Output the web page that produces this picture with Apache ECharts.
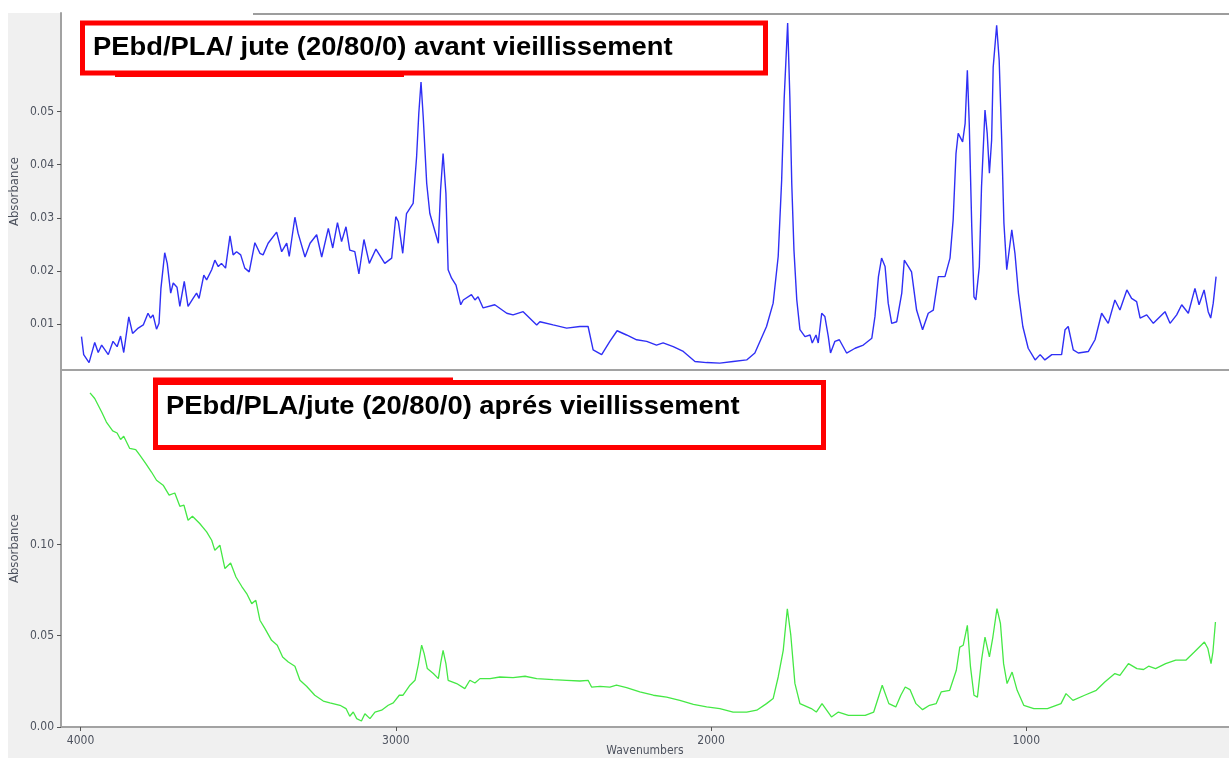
<!DOCTYPE html>
<html>
<head>
<meta charset="utf-8">
<script src="https://cdn.jsdelivr.net/npm/echarts@6/dist/echarts.min.js"></script>
<style>
html, body { margin: 0; padding: 0; background: #ffffff; }
#chart { width: 1229px; height: 758px; }
</style>
</head>
<body>
<div id="chart"></div>
<script>
// Tick positions
const xTicks = [1000, 2000, 3000, 4000];
const topTicks = [0.01, 0.02, 0.03, 0.04, 0.05];
const bottomTicks = [0, 0.05, 0.10];

// Panel titles
const titleBefore = 'PEbd/PLA/ jute (20/80/0) avant vieillissement';
const titleAfter = 'PEbd/PLA/jute (20/80/0) aprés vieillissement';

// FTIR spectrum before ageing: [wavenumber (cm-1), absorbance]
const beforeAgeing = [
  [3997,0.0076],[3990,0.0042],[3973,0.0027],[3955,0.0065],[3944,0.0046],[3933,0.0060],[3912,0.0042],
  [3897,0.0067],[3884,0.0057],[3873,0.0077],[3863,0.0046],[3847,0.0113],[3835,0.0082],[3817,0.0092],
  [3801,0.0098],[3786,0.0120],[3778,0.0111],[3770,0.0117],[3759,0.0090],[3751,0.0101],[3745,0.0167],
  [3733,0.0234],[3725,0.0214],[3714,0.0158],[3706,0.0177],[3694,0.0169],[3685,0.0133],[3671,0.0180],
  [3659,0.0133],[3643,0.0148],[3632,0.0158],[3624,0.0148],[3609,0.0192],[3600,0.0183],[3584,0.0202],
  [3574,0.0220],[3563,0.0208],[3553,0.0214],[3540,0.0205],[3526,0.0266],[3516,0.0230],[3505,0.0236],
  [3492,0.0230],[3479,0.0205],[3465,0.0198],[3447,0.0253],[3431,0.0233],[3421,0.0230],[3405,0.0252],
  [3378,0.0273],[3362,0.0236],[3346,0.0252],[3338,0.0227],[3320,0.0301],[3310,0.0271],[3288,0.0226],
  [3272,0.0252],[3251,0.0268],[3235,0.0226],[3214,0.0280],[3200,0.0243],[3185,0.0291],[3172,0.0255],
  [3158,0.0283],[3146,0.0239],[3130,0.0236],[3117,0.0194],[3101,0.0259],[3084,0.0214],[3063,0.0241],
  [3035,0.0214],[3013,0.0224],[3000,0.0302],[2992,0.0293],[2978,0.0233],[2966,0.0308],[2945,0.0327],
  [2934,0.0415],[2927,0.0497],[2920,0.0556],[2913,0.0490],[2902,0.0365],[2892,0.0308],[2865,0.0252],
  [2858,0.0352],[2850,0.0421],[2841,0.0346],[2834,0.0202],[2823,0.0186],[2809,0.0173],[2794,0.0136],
  [2786,0.0145],[2760,0.0155],[2749,0.0145],[2739,0.0151],[2723,0.0130],[2686,0.0136],[2648,0.0120],
  [2628,0.0117],[2596,0.0123],[2553,0.0098],[2543,0.0104],[2501,0.0098],[2458,0.0092],[2416,0.0095],
  [2390,0.0095],[2374,0.0051],[2347,0.0042],[2321,0.0067],[2298,0.0087],[2268,0.0079],[2236,0.0070],
  [2204,0.0067],[2173,0.0060],[2152,0.0064],[2120,0.0057],[2088,0.0048],[2051,0.0029],[2014,0.0027],
  [1972,0.0026],[1930,0.0029],[1887,0.0032],[1861,0.0045],[1824,0.0095],[1803,0.0139],[1787,0.0227],
  [1776,0.0371],[1768,0.0525],[1757,0.0667],[1750,0.0527],[1744,0.0365],[1737,0.0239],[1728,0.0145],
  [1718,0.0089],[1702,0.0076],[1686,0.0079],[1679,0.0064],[1667,0.0079],[1660,0.0064],[1649,0.0120],
  [1639,0.0114],[1628,0.0076],[1621,0.0045],[1607,0.0067],[1593,0.0070],[1570,0.0045],[1543,0.0054],
  [1517,0.0060],[1490,0.0073],[1480,0.0114],[1469,0.0189],[1459,0.0224],[1448,0.0208],[1438,0.0139],
  [1427,0.0101],[1411,0.0104],[1395,0.0158],[1387,0.0220],[1374,0.0208],[1364,0.0198],[1348,0.0126],
  [1329,0.0089],[1311,0.0120],[1295,0.0126],[1279,0.0189],[1258,0.0189],[1242,0.0224],[1232,0.0296],
  [1223,0.0421],[1216,0.0459],[1202,0.0443],[1194,0.0478],[1187,0.0578],[1181,0.0478],[1173,0.0283],
  [1166,0.0151],[1160,0.0145],[1149,0.0208],[1142,0.0359],[1131,0.0503],[1124,0.0459],[1117,0.0384],
  [1110,0.0446],[1105,0.0584],[1094,0.0663],[1086,0.0597],[1078,0.0446],[1071,0.0290],[1062,0.0202],
  [1046,0.0277],[1036,0.0233],[1025,0.0158],[1011,0.0095],[994,0.0054],[972,0.0032],[956,0.0042],
  [941,0.0032],[919,0.0042],[888,0.0042],[877,0.0089],[867,0.0095],[851,0.0051],[835,0.0045],
  [803,0.0048],[782,0.0070],[761,0.0120],[740,0.0101],[719,0.0145],[703,0.0126],[681,0.0164],
  [666,0.0148],[650,0.0142],[639,0.0111],[618,0.0117],[597,0.0101],[560,0.0123],[544,0.0101],
  [523,0.0117],[507,0.0136],[486,0.0120],[465,0.0167],[452,0.0136],[436,0.0164],[423,0.0123],
  [415,0.0111],[407,0.0139],[398,0.0189]
];

// FTIR spectrum after ageing: [wavenumber (cm-1), absorbance]
const afterAgeing = [
  [3970,0.1831],[3955,0.1800],[3933,0.1726],[3918,0.1671],[3898,0.1622],[3884,0.1611],[3873,0.1575],
  [3863,0.1593],[3844,0.1526],[3825,0.1520],[3812,0.1489],[3793,0.1443],[3775,0.1397],[3759,0.1352],
  [3738,0.1325],[3719,0.1270],[3701,0.1282],[3685,0.1209],[3672,0.1215],[3659,0.1133],[3645,0.1155],
  [3622,0.1115],[3600,0.1069],[3584,0.1023],[3574,0.0968],[3558,0.0996],[3542,0.0868],[3524,0.0899],
  [3507,0.0822],[3489,0.0771],[3473,0.0731],[3457,0.0676],[3444,0.0694],[3431,0.0585],[3415,0.0539],
  [3394,0.0475],[3376,0.0448],[3359,0.0384],[3341,0.0356],[3320,0.0333],[3304,0.0256],[3283,0.0223],
  [3257,0.0174],[3230,0.0142],[3209,0.0132],[3177,0.0119],[3158,0.0101],[3146,0.0059],[3135,0.0082],
  [3124,0.0046],[3109,0.0033],[3098,0.0073],[3082,0.0046],[3066,0.0082],[3045,0.0092],[3024,0.0119],
  [3008,0.0132],[2989,0.0174],[2977,0.0174],[2955,0.0229],[2939,0.0256],[2929,0.0338],[2918,0.0448],
  [2910,0.0402],[2900,0.0320],[2881,0.0293],[2865,0.0265],[2857,0.0356],[2850,0.0420],[2841,0.0347],
  [2834,0.0256],[2807,0.0238],[2781,0.0210],[2765,0.0256],[2749,0.0241],[2733,0.0265],[2701,0.0265],
  [2670,0.0274],[2628,0.0271],[2590,0.0278],[2553,0.0265],[2501,0.0260],[2458,0.0256],[2416,0.0252],
  [2390,0.0256],[2379,0.0219],[2352,0.0223],[2321,0.0219],[2300,0.0229],[2268,0.0216],[2226,0.0192],
  [2183,0.0174],[2141,0.0164],[2099,0.0146],[2056,0.0124],[2014,0.0110],[1972,0.0101],[1930,0.0082],
  [1887,0.0082],[1855,0.0092],[1824,0.0128],[1803,0.0156],[1787,0.0274],[1771,0.0420],[1758,0.0648],
  [1747,0.0503],[1734,0.0239],[1718,0.0128],[1682,0.0101],[1666,0.0082],[1648,0.0128],[1618,0.0055],
  [1596,0.0082],[1564,0.0064],[1511,0.0064],[1484,0.0082],[1457,0.0229],[1436,0.0128],[1414,0.0110],
  [1398,0.0174],[1384,0.0219],[1369,0.0205],[1350,0.0128],[1329,0.0095],[1307,0.0119],[1286,0.0128],
  [1270,0.0192],[1243,0.0201],[1222,0.0311],[1211,0.0438],[1200,0.0448],[1187,0.0557],[1177,0.0329],
  [1166,0.0174],[1155,0.0164],[1142,0.0366],[1131,0.0493],[1117,0.0384],[1106,0.0493],[1093,0.0649],
  [1082,0.0567],[1072,0.0347],[1061,0.0238],[1045,0.0301],[1029,0.0201],[1008,0.0119],[976,0.0101],
  [933,0.0101],[890,0.0128],[874,0.0183],[852,0.0146],[815,0.0174],[778,0.0201],[751,0.0247],
  [719,0.0293],[703,0.0283],[676,0.0347],[649,0.0320],[628,0.0315],[612,0.0333],[590,0.0320],
  [558,0.0347],[526,0.0366],[494,0.0366],[467,0.0411],[435,0.0466],[424,0.0430],[414,0.0347],
  [408,0.0411],[400,0.0575]
];

const narrowFont = '"DejaVu Sans Condensed","Liberation Sans Narrow",sans-serif';
const axisGray = '#a2a2a2';
const labelColor = '#4d525e';

function makeXAxis(gridIndex, withLabels) {
  return {
    gridIndex: gridIndex,
    type: 'value',
    inverse: true,
    min: 357,
    max: 4062,
    axisLine: { show: true, onZero: false, lineStyle: { color: axisGray, width: 2 } },
    axisTick: {
      show: withLabels, length: 4, customValues: xTicks,
      lineStyle: { color: '#555555', width: 1 }
    },
    axisLabel: {
      show: withLabels, customValues: xTicks, margin: 8,
      fontSize: 12, fontFamily: narrowFont, color: labelColor,
      formatter: v => String(v)
    },
    splitLine: { show: false },
    name: withLabels ? 'Wavenumbers' : '',
    nameLocation: 'middle',
    nameGap: 18,
    nameMoveOverlap: false,
    nameTextStyle: { fontSize: 12, fontFamily: narrowFont, color: labelColor }
  };
}

function makeYAxis(gridIndex, min, max, ticks) {
  return {
    gridIndex: gridIndex,
    type: 'value',
    min: min,
    max: max,
    axisLine: { show: true, onZero: false, lineStyle: { color: axisGray, width: 2 } },
    axisTick: {
      show: true, length: 4, customValues: ticks,
      lineStyle: { color: '#555555', width: 1 }
    },
    axisLabel: {
      customValues: ticks, margin: 7,
      fontSize: 12, fontFamily: narrowFont, color: labelColor,
      formatter: v => v.toFixed(2)
    },
    splitLine: { show: false },
    name: 'Absorbance',
    nameLocation: 'middle',
    nameRotate: 90,
    nameGap: 40,
    nameMoveOverlap: false,
    nameTextStyle: { fontSize: 13, fontFamily: narrowFont, color: labelColor }
  };
}

const chart = echarts.init(document.getElementById('chart'), null, { renderer: 'canvas' });

chart.setOption({
  backgroundColor: '#ffffff',
  animation: false,
  grid: [
    { left: 61, right: 0, top: 13, height: 357, containLabel: false, outerBoundsMode: 'none' },
    { left: 61, right: 0, top: 370, height: 357, containLabel: false, outerBoundsMode: 'none' }
  ],
  xAxis: [makeXAxis(0, false), makeXAxis(1, true)],
  yAxis: [
    makeYAxis(0, 0.0013, 0.0686, topTicks),
    makeYAxis(1, 0, 0.1956, bottomTicks)
  ],
  series: [
    {
      name: 'avant vieillissement',
      type: 'line',
      xAxisIndex: 0, yAxisIndex: 0,
      data: beforeAgeing,
      showSymbol: false,
      lineStyle: { color: '#2f2ff5', width: 1.4 },
      itemStyle: { color: '#2f2ff5' }
    },
    {
      name: 'après vieillissement',
      type: 'line',
      xAxisIndex: 1, yAxisIndex: 1,
      data: afterAgeing,
      showSymbol: false,
      lineStyle: { color: '#45e845', width: 1.3 },
      itemStyle: { color: '#45e845' }
    }
  ],
  graphic: [
    // frame backgrounds
    { type: 'rect', z: -1, shape: { x: 8, y: 13, width: 53, height: 745 }, style: { fill: '#f0f0f0' } },
    { type: 'rect', z: -1, shape: { x: 8, y: 727, width: 1221, height: 31 }, style: { fill: '#f0f0f0' } },
    { type: 'line', z: 5, shape: { x1: 253, y1: 14, x2: 1229, y2: 14 }, style: { stroke: '#9d9d9d', lineWidth: 2 } },
    // title boxes
    { type: 'rect', z: 20, shape: { x: 82.5, y: 23, width: 683, height: 50 },
      style: { fill: '#ffffff', stroke: '#ff0000', lineWidth: 5 } },
    { type: 'rect', z: 20, shape: { x: 115, y: 74, width: 289, height: 3 }, style: { fill: '#ff0000' } },
    { type: 'text', z: 21, x: 93, y: 48, scaleX: 1.095,
      style: { text: titleBefore, font: 'bold 25px "Liberation Sans", Arial, sans-serif',
               fill: '#000000', align: 'left', verticalAlign: 'middle' } },
    { type: 'rect', z: 20, shape: { x: 155.5, y: 382.5, width: 668, height: 65 },
      style: { fill: '#ffffff', stroke: '#ff0000', lineWidth: 5 } },
    { type: 'rect', z: 20, shape: { x: 153, y: 377.5, width: 300, height: 3 }, style: { fill: '#ff0000' } },
    { type: 'text', z: 21, x: 166, y: 407, scaleX: 1.095,
      style: { text: titleAfter, font: 'bold 25px "Liberation Sans", Arial, sans-serif',
               fill: '#000000', align: 'left', verticalAlign: 'middle' } }
  ]
});
</script>
</body>
</html>
